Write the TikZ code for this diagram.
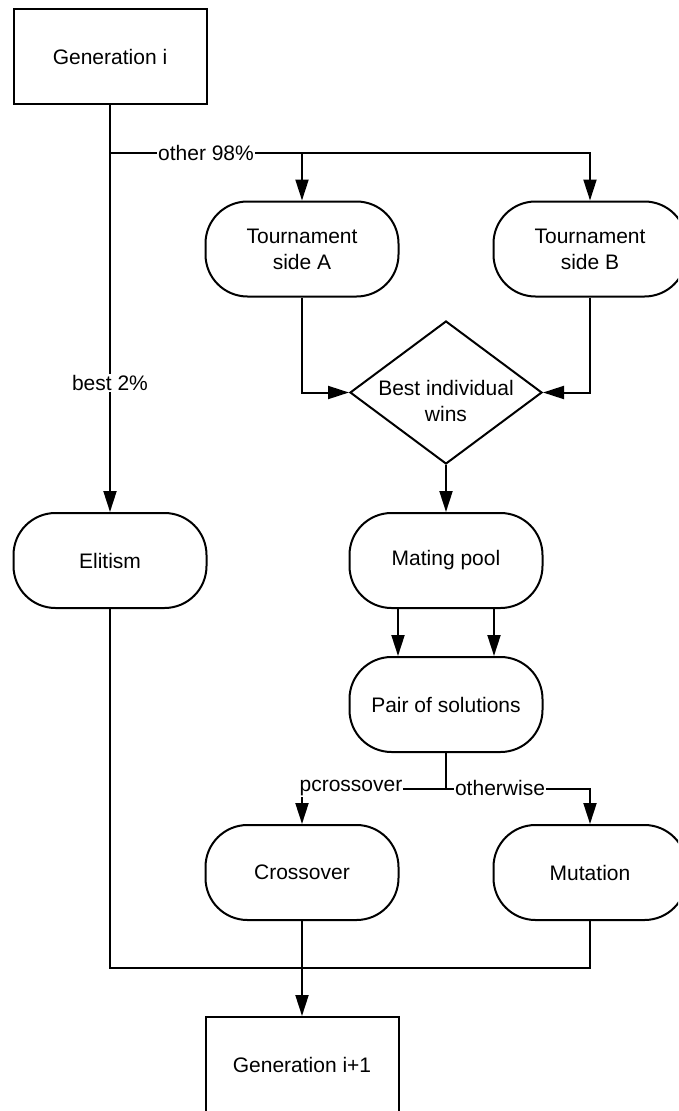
\documentclass[tikz,border=0pt]{standalone}
\usepackage{fontspec}
\setmainfont{Liberation Sans}
\usetikzlibrary{arrows.meta,shapes.geometric}
\begin{document}
\begin{tikzpicture}[x=1pt,y=-1pt,
  every node/.style={font=\fontsize{21}{26}\selectfont},
  box/.style={draw, line width=2pt, minimum width=193pt, minimum height=95pt, align=center, inner sep=0pt},
  term/.style={box, rounded corners=42pt},
  dia/.style={draw, diamond, line width=2pt, minimum width=192pt, minimum height=143pt, inner sep=0pt},
  conn/.style={line width=2pt},
  arr/.style={conn, -{Triangle[length=21pt,width=13pt]}},
  lbl/.style={fill=white, inner sep=1pt}]
\useasboundingbox (0,0) rectangle (678,1111);
\clip (0,0) rectangle (678,1111);
% nodes
\node[box] (gi) at (110,56.5) {Generation i};
\node[term] (ta) at (302,249) {Tournament\\side A};
\node[term] (tb) at (590,249) {Tournament\\side B};
\node[dia] (d) at (446,392.5) {};
\node[align=center] (dt) at (446,401) {Best individual\\wins};
\node[term] (el) at (110,560.5) {Elitism};
\node[term] (mp) at (446,560.5) {Mating pool};
\node[term] (ps) at (446,704.5) {Pair of solutions};
\node[term] (co) at (302,872.5) {Crossover};
\node[term] (mu) at (590,872.5) {Mutation};
\node[box, minimum height=96pt] (g2) at (302,1065) {Generation i+1};
% junctions
\coordinate (j1) at (110,153);
\coordinate (j2) at (446,789);
\coordinate (b1) at (110,968);
\coordinate (b2) at (590,968);
% connectors
\draw[arr] (gi.south) -- (el.north);
\draw[arr] (j1) -| (ta.north);
\draw[arr] (j1) -| (tb.north);
\draw[arr] (ta.south) |- (d.west);
\draw[arr] (tb.south) |- (d.east);
\draw[arr] (d.south) -- (mp.north);
\draw[arr] ([xshift=-48pt]mp.south) -- ([xshift=-48pt]ps.north);
\draw[arr] ([xshift=48pt]mp.south) -- ([xshift=48pt]ps.north);
\draw[conn] (ps.south) -- (j2);
\draw[arr] (j2) -| (co.north);
\draw[arr] (j2) -| (mu.north);
\draw[conn] (el.south) -- (b1) -- (b2) -- (mu.south);
\draw[arr] (co.south) -- (g2.north);
% labels
\node[lbl] (l1) at (110,383) {best 2\%};
\node[lbl] (l2) at (206,153) {other 98\%};
\node[lbl] (l3) at (351,788) {pcrossover};
\node[lbl] (l4) at (500,788) {otherwise};
\end{tikzpicture}
\end{document}
